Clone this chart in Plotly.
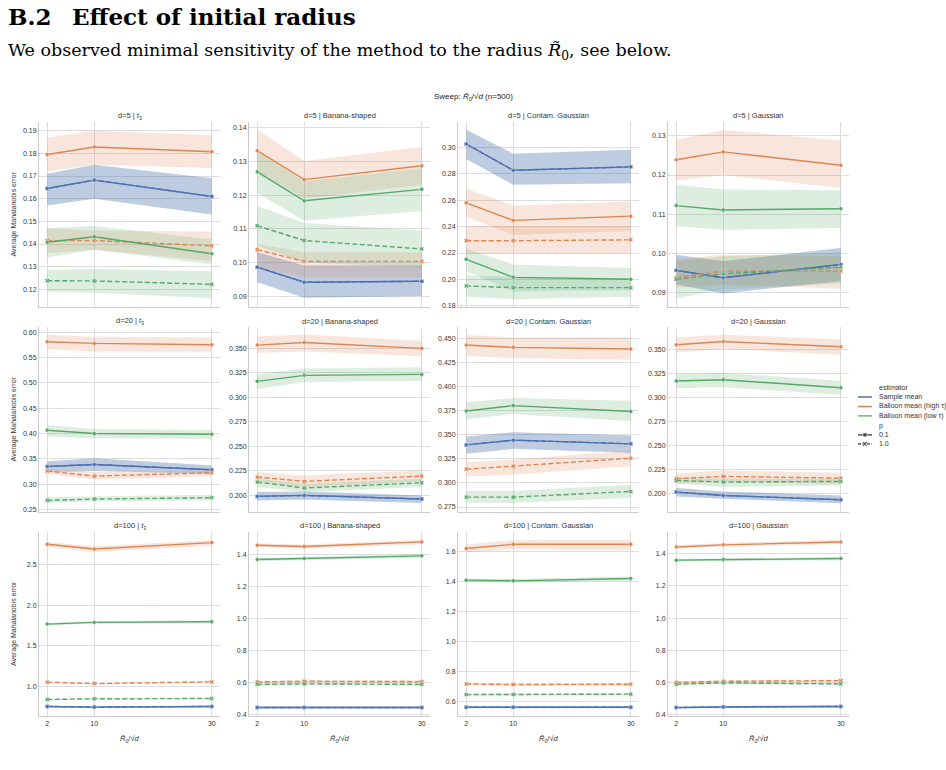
import plotly.graph_objects as go

# ---------------- data ----------------
x_vals = [2, 10, 30]
dims = [5, 20, 100]
dists = ["<i>t</i><sub>3</sub>", "Banana-shaped", "Contam. Gaussian", "Gaussian"]
# panel order: d5 (t3, banana, contam, gauss), d20 (...), d100 (...)

sample_mean = [[0.1645, 0.1682, 0.1610], [0.0986, 0.0941, 0.0944], [0.3025, 0.2826, 0.2852], [0.0957, 0.0938, 0.0972],
               [0.3349, 0.3388, 0.3283], [0.1990, 0.2000, 0.1963], [0.3395, 0.3444, 0.3406], [0.2010, 0.1975, 0.1930],
               [0.755, 0.747, 0.755], [0.446, 0.446, 0.446], [0.562, 0.562, 0.562], [0.445, 0.449, 0.452]]
sample_lo = [[0.157, 0.160, 0.153], [0.0941, 0.0895, 0.0900], [0.2912, 0.2716, 0.2728], [0.0921, 0.0898, 0.0930],
             [0.3237, 0.3257, 0.3204], [0.1949, 0.1959, 0.1922], [0.3302, 0.3354, 0.3313], [0.1965, 0.1941, 0.1892],
             [0.745, 0.737, 0.745], [0.440, 0.440, 0.440], [0.556, 0.556, 0.556], [0.439, 0.443, 0.446]]
sample_hi = [[0.171, 0.175, 0.169], [0.1030, 0.0991, 0.0991], [0.3133, 0.2952, 0.2982], [0.0997, 0.0980, 0.1014],
             [0.3454, 0.3513, 0.3368], [0.2034, 0.2041, 0.2000], [0.3482, 0.3527, 0.3492], [0.2052, 0.2017, 0.1975],
             [0.765, 0.757, 0.765], [0.452, 0.452, 0.452], [0.568, 0.568, 0.568], [0.451, 0.455, 0.458]]

high_p01 = [[0.1795, 0.1828, 0.1807], [0.1332, 0.1246, 0.1287], [0.2580, 0.2447, 0.2479], [0.1239, 0.1259, 0.1225],
            [0.5816, 0.5783, 0.5757], [0.3534, 0.3561, 0.3500], [0.4431, 0.4407, 0.4390], [0.3552, 0.3587, 0.3531],
            [2.749, 2.692, 2.770], [1.456, 1.448, 1.477], [1.618, 1.646, 1.646], [1.441, 1.454, 1.472]]
high_p01_lo = [[0.1720, 0.1750, 0.1735], [0.1270, 0.1190, 0.1230], [0.2474, 0.2336, 0.2366], [0.1186, 0.1200, 0.1167],
               [0.5670, 0.5625, 0.5620], [0.3452, 0.3469, 0.3419], [0.4320, 0.4293, 0.4279], [0.3472, 0.3507, 0.3448],
               [2.717, 2.655, 2.729], [1.443, 1.434, 1.462], [1.591, 1.613, 1.607], [1.430, 1.442, 1.459]]
high_p01_hi = [[0.1870, 0.1900, 0.1880], [0.1395, 0.1301, 0.1343], [0.2688, 0.2560, 0.2590], [0.1290, 0.1315, 0.1288],
               [0.5954, 0.5914, 0.5900], [0.3622, 0.3643, 0.3578], [0.4538, 0.4510, 0.4510], [0.3629, 0.3657, 0.3611],
               [2.778, 2.725, 2.798], [1.468, 1.461, 1.490], [1.644, 1.673, 1.677], [1.452, 1.466, 1.485]]

low_p01 = [[0.1408, 0.1432, 0.1357], [0.1269, 0.1183, 0.1217], [0.2152, 0.2016, 0.2001], [0.1122, 0.1111, 0.1114],
           [0.4066, 0.4000, 0.3987], [0.3164, 0.3225, 0.3235], [0.3747, 0.3803, 0.3741], [0.3173, 0.3187, 0.3103],
           [1.768, 1.789, 1.797], [1.367, 1.373, 1.390], [1.4075, 1.403, 1.419], [1.359, 1.363, 1.369]]
low_p01_lo = [[0.1340, 0.1375, 0.1310], [0.1206, 0.1124, 0.1153], [0.2064, 0.1911, 0.1918], [0.1070, 0.1060, 0.1065],
              [0.3947, 0.3908, 0.3895], [0.3086, 0.3154, 0.3171], [0.3658, 0.3716, 0.3640], [0.3096, 0.3107, 0.3030],
              [1.752, 1.772, 1.779], [1.357, 1.362, 1.378], [1.396, 1.391, 1.406], [1.350, 1.354, 1.359]]
low_p01_hi = [[0.1470, 0.1480, 0.1420], [0.1330, 0.1240, 0.1280], [0.2233, 0.2114, 0.2087], [0.1175, 0.1163, 0.1161],
              [0.4171, 0.4092, 0.4072], [0.3239, 0.3296, 0.3307], [0.3837, 0.3882, 0.3854], [0.3246, 0.3256, 0.3176],
              [1.784, 1.806, 1.815], [1.377, 1.384, 1.402], [1.419, 1.415, 1.432], [1.368, 1.372, 1.379]]

high_p10 = [[0.1415, 0.1415, 0.1392], [0.1038, 0.1003, 0.1003], [0.2293, 0.2293, 0.2300], [0.0938, 0.0955, 0.0955],
            [0.3257, 0.3158, 0.3224], [0.2187, 0.2143, 0.2197], [0.3143, 0.3174, 0.3257], [0.2150, 0.2174, 0.2156],
            [1.053, 1.037, 1.057], [0.605, 0.609, 0.607], [0.717, 0.713, 0.715], [0.602, 0.608, 0.612]]
high_p10_lo = [[0.1360, 0.1375, 0.1325], [0.0985, 0.0955, 0.0955], [0.2197, 0.2197, 0.2197], [0.0913, 0.0921, 0.0910],
               [0.3204, 0.3086, 0.3158], [0.2136, 0.2085, 0.2143], [0.3067, 0.3085, 0.3174], [0.2097, 0.2115, 0.2097],
               [1.043, 1.027, 1.047], [0.598, 0.602, 0.600], [0.707, 0.703, 0.705], [0.595, 0.601, 0.605]]
high_p10_hi = [[0.1470, 0.1460, 0.1455], [0.1055, 0.1030, 0.1030], [0.2404, 0.2404, 0.2404], [0.0985, 0.0997, 0.0993],
               [0.3303, 0.3237, 0.3270], [0.2238, 0.2204, 0.2255], [0.3216, 0.3244, 0.3337], [0.2202, 0.2237, 0.2212],
               [1.063, 1.047, 1.067], [0.612, 0.616, 0.614], [0.727, 0.723, 0.725], [0.609, 0.615, 0.619]]

low_p10 = [[0.1238, 0.1237, 0.1222], [0.1109, 0.1065, 0.1040], [0.1951, 0.1938, 0.1938], [0.0934, 0.0948, 0.0965],
           [0.2678, 0.2704, 0.2730], [0.2136, 0.2075, 0.2129], [0.2853, 0.2853, 0.2912], [0.2132, 0.2115, 0.2122],
           [0.841, 0.849, 0.853], [0.590, 0.593, 0.590], [0.646, 0.646, 0.649], [0.590, 0.598, 0.592]]
low_p10_lo = [[0.1190, 0.1185, 0.1160], [0.1050, 0.1000, 0.0985], [0.1870, 0.1850, 0.1870], [0.0886, 0.0908, 0.0924],
              [0.2625, 0.2658, 0.2678], [0.2085, 0.2034, 0.2085], [0.2795, 0.2795, 0.2843], [0.2097, 0.2062, 0.2080],
              [0.834, 0.842, 0.846], [0.585, 0.588, 0.585], [0.640, 0.640, 0.643], [0.584, 0.592, 0.586]]
low_p10_hi = [[0.1285, 0.1290, 0.1280], [0.1168, 0.1117, 0.1094], [0.2031, 0.2020, 0.2010], [0.0980, 0.0993, 0.1002],
              [0.2743, 0.2757, 0.2790], [0.2170, 0.2119, 0.2170], [0.2916, 0.2916, 0.2981], [0.2167, 0.2150, 0.2150],
              [0.848, 0.856, 0.860], [0.595, 0.598, 0.595], [0.652, 0.652, 0.655], [0.596, 0.604, 0.598]]

# ---------------- styling / layout ----------------
W, H = 946, 770
BLUE, ORANGE, GREEN = "#4C72B0", "#DD8452", "#55A868"
BAND = {BLUE: "rgba(76,114,176,0.2)", ORANGE: "rgba(221,132,82,0.2)", GREEN: "rgba(85,168,104,0.2)"}
FONT = "Liberation Sans, Arial, sans-serif"
TXT = "#333333"

col_px = [(39, 220), (249, 430), (458, 639), (668, 849)]
row_px = [(122, 308), (328, 513), (533, 718)]
y_ranges = [[0.1121, 0.194], [0.0867, 0.1418], [0.179, 0.3194], [0.0863, 0.1336],
            [0.2454, 0.6105], [0.1834, 0.3717], [0.2702, 0.4617], [0.1805, 0.3737],
            [0.636, 2.905], [0.392, 1.541], [0.5027, 1.7305], [0.392, 1.536]]
y_dticks = [0.01, 0.01, 0.02, 0.01, 0.05, 0.025, 0.025, 0.025, 0.5, 0.2, 0.2, 0.2]
y_formats = [".2f", ".2f", ".2f", ".2f", ".2f", ".3f", ".3f", ".3f", ".1f", ".1f", ".1f", ".1f"]


def px_x(p):
    return p / W


def px_y(p):
    return 1 - p / H


series = [
    ("Sample mean", BLUE, "dash", "x", sample_mean, sample_lo, sample_hi),
    ("Sample mean", BLUE, "solid", "circle", sample_mean, sample_lo, sample_hi),
    ("Balloon mean (high τ)", ORANGE, "solid", "circle", high_p01, high_p01_lo, high_p01_hi),
    ("Balloon mean (high τ)", ORANGE, "dash", "x", high_p10, high_p10_lo, high_p10_hi),
    ("Balloon mean (low τ)", GREEN, "solid", "circle", low_p01, low_p01_lo, low_p01_hi),
    ("Balloon mean (low τ)", GREEN, "dash", "x", low_p10, low_p10_lo, low_p10_hi),
]

fig = go.Figure()
layout = {}
annotations = []

for k in range(12):
    r, c = divmod(k, 4)
    xa = "x" if k == 0 else f"x{k+1}"
    ya = "y" if k == 0 else f"y{k+1}"
    # bands
    for name, color, dash, sym, m, lo, hi in series:
        fig.add_trace(go.Scatter(
            x=x_vals + x_vals[::-1], y=hi[k] + lo[k][::-1], fill="toself",
            fillcolor=BAND[color], line=dict(width=0), mode="lines",
            hoverinfo="skip", showlegend=False, xaxis=xa, yaxis=ya))
    # lines
    for name, color, dash, sym, m, lo, hi in series:
        fig.add_trace(go.Scatter(
            x=x_vals, y=m[k], mode="lines+markers", name=name,
            line=dict(color=color, width=1.4, dash="5px,2.5px" if dash == "dash" else "solid"),
            marker=dict(symbol=sym, size=4, color=color, line=dict(width=0.4, color="white")),
            showlegend=False, xaxis=xa, yaxis=ya))

    x0, x1 = col_px[c]
    y0, y1 = row_px[r]
    layout["xaxis" if k == 0 else f"xaxis{k+1}"] = dict(
        domain=[px_x(x0), px_x(x1)], anchor=ya, range=[0.6, 31.4],
        tickvals=x_vals, ticktext=[str(v) for v in x_vals],
        showticklabels=(r == 2), ticks="", showgrid=True, gridcolor="#DDDDDD", gridwidth=1,
        showline=True, linecolor="#CCCCCC", linewidth=1, zeroline=False,
        tickfont=dict(size=7, color=TXT, family=FONT))
    layout["yaxis" if k == 0 else f"yaxis{k+1}"] = dict(
        domain=[px_y(y1), px_y(y0)], anchor=xa, range=y_ranges[k],
        tick0=0, dtick=y_dticks[k], tickformat=y_formats[k], ticks="",
        showgrid=True, gridcolor="#DDDDDD", gridwidth=1,
        showline=True, linecolor="#CCCCCC", linewidth=1, zeroline=False,
        tickfont=dict(size=7, color=TXT, family=FONT))

    # panel title
    annotations.append(dict(
        text=f"d={dims[r]} | {dists[c]}", x=px_x((x0 + x1) / 2), y=px_y(y0 - 6),
        xref="paper", yref="paper", xanchor="center", yanchor="middle", showarrow=False,
        font=dict(size=7.5, color=TXT, family=FONT)))
    if c == 0:
        annotations.append(dict(
            text="Average Mahalanobis error", x=px_x(14), y=px_y((y0 + y1) / 2),
            xref="paper", yref="paper", xanchor="center", yanchor="middle", showarrow=False,
            textangle=-90, font=dict(size=7, color=TXT, family=FONT)))
    if r == 2:
        annotations.append(dict(
            text="<i>R\u0303</i><sub>0</sub>/√<i>d</i>", x=px_x((x0 + x1) / 2), y=px_y(741),
            xref="paper", yref="paper", xanchor="center", yanchor="middle", showarrow=False,
            font=dict(size=7.5, color=TXT, family=FONT)))

# suptitle
annotations.append(dict(
    text="Sweep: <i>R\u0303</i><sub>0</sub>/√<i>d</i> (n=500)", x=px_x(473), y=px_y(97),
    xref="paper", yref="paper", xanchor="center", yanchor="middle", showarrow=False,
    font=dict(size=8, color="#222222", family=FONT)))

# header text (document)
SERIF = "DejaVu Serif, Liberation Serif, serif"
annotations.append(dict(
    text="<b>B.2</b>", x=px_x(6), y=px_y(17),
    xref="paper", yref="paper", xanchor="left", yanchor="middle", showarrow=False,
    font=dict(size=23, color="#000000", family=SERIF)))
annotations.append(dict(
    text="<b>Effect of initial radius</b>", x=px_x(70), y=px_y(17),
    xref="paper", yref="paper", xanchor="left", yanchor="middle", showarrow=False,
    font=dict(size=23, color="#000000", family=SERIF)))
annotations.append(dict(
    text="We observed minimal sensitivity of the method to the radius <i>R\u0303</i><sub>0</sub>, see below.",
    x=px_x(6), y=px_y(52), xref="paper", yref="paper", xanchor="left", yanchor="middle",
    showarrow=False, font=dict(size=17.5, color="#000000", family=SERIF)))

# ---------------- legend (drawn on a pixel-unit overlay axis) ----------------
LX0, LX1, LY0, LY1 = 850, 946, 380, 452
layout["xaxis13"] = dict(domain=[px_x(LX0), px_x(LX1)], range=[LX0, LX1], visible=False, anchor="y13")
layout["yaxis13"] = dict(domain=[px_y(LY1), px_y(LY0)], range=[LY1, LY0], visible=False, anchor="x13")

leg_est = [("Sample mean", BLUE, 398), ("Balloon mean (high τ)", ORANGE, 407.5), ("Balloon mean (low τ)", GREEN, 417)]
leg_p = [("0.1", "solid", "circle", 436), ("1.0", "dash", "x", 445)]
for lab, col, yy in leg_est:
    fig.add_trace(go.Scatter(x=[858, 872], y=[yy, yy], mode="lines", line=dict(color=col, width=1.4),
                             showlegend=False, hoverinfo="skip", xaxis="x13", yaxis="y13"))
    annotations.append(dict(text=lab, x=877, y=yy, xref="x13", yref="y13", xanchor="left", yanchor="middle",
                            showarrow=False, font=dict(size=7, color=TXT, family=FONT)))
for lab, dash, sym, yy in leg_p:
    fig.add_trace(go.Scatter(x=[858, 865, 872], y=[yy, yy, yy], mode="lines+markers",
                             line=dict(color="#333333", width=1.4, dash="3px,1.5px" if dash == "dash" else "solid"),
                             marker=dict(symbol=sym, size=[0, 5, 0], color="#333333"),
                             showlegend=False, hoverinfo="skip", xaxis="x13", yaxis="y13"))
    annotations.append(dict(text=lab, x=877, y=yy, xref="x13", yref="y13", xanchor="left", yanchor="middle",
                            showarrow=False, font=dict(size=7, color=TXT, family=FONT)))
annotations.append(dict(text="estimator", x=877, y=388.5, xref="x13", yref="y13", xanchor="left", yanchor="middle",
                        showarrow=False, font=dict(size=7, color=TXT, family=FONT)))
annotations.append(dict(text="p", x=877, y=427, xref="x13", yref="y13", xanchor="left", yanchor="middle",
                        showarrow=False, font=dict(size=7, color=TXT, family=FONT)))

fig.update_layout(
    width=W, height=H, margin=dict(l=0, r=0, t=0, b=0),
    paper_bgcolor="white", plot_bgcolor="white", showlegend=False,
    annotations=annotations, **layout)

fig.write_html("out.html")
